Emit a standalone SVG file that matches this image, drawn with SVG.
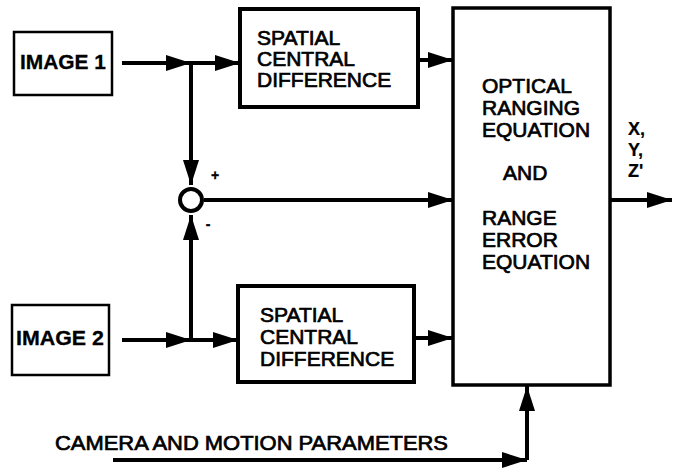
<svg xmlns="http://www.w3.org/2000/svg" width="676" height="472" viewBox="0 0 676 472">
<style>
  .box { fill: #fff; stroke: #000; }
  .lbl { font-family: "Liberation Sans", Arial, sans-serif; font-size: 21px; fill: #000; stroke: #000; stroke-width: 0.7; }
  .b { font-weight: bold; stroke-width: 0.3; }
  .xyz { font-size: 18px; font-weight: bold; stroke-width: 0.2; }
  .conn { fill: none; stroke: #000; stroke-width: 4; }
</style>
<defs>
  <marker id="ah" markerUnits="userSpaceOnUse" markerWidth="26" markerHeight="18" refX="25" refY="8" orient="auto" viewBox="0 0 26 18">
    <path d="M0,0 L25,8 L0,16 z" fill="#000"/>
  </marker>
</defs>
<rect width="676" height="472" fill="#fff"/>

<g id="image1">
  <rect class="box" x="14" y="32" width="98" height="63" stroke-width="2.5"/>
  <text class="lbl b" x="63" y="69" text-anchor="middle" textLength="86" lengthAdjust="spacingAndGlyphs">IMAGE 1</text>
</g>
<g id="image2">
  <rect class="box" x="12" y="305" width="97" height="70" stroke-width="2.5"/>
  <text class="lbl b" x="60" y="345" text-anchor="middle" textLength="88" lengthAdjust="spacingAndGlyphs">IMAGE 2</text>
</g>
<g id="scd1">
  <rect class="box" x="240" y="9" width="178" height="98" stroke-width="4"/>
  <text class="lbl" x="257" y="45">SPATIAL</text>
  <text class="lbl" x="257" y="66">CENTRAL</text>
  <text class="lbl" x="257" y="87">DIFFERENCE</text>
</g>
<g id="scd2">
  <rect class="box" x="238" y="286" width="176" height="96" stroke-width="4"/>
  <text class="lbl" x="260" y="322">SPATIAL</text>
  <text class="lbl" x="260" y="344">CENTRAL</text>
  <text class="lbl" x="260" y="366">DIFFERENCE</text>
</g>
<g id="sum">
  <circle cx="191" cy="200" r="11" fill="#fff" stroke="#000" stroke-width="4"/>
  <text class="lbl b" x="215" y="180" text-anchor="middle" style="font-size:14px">+</text>
  <text class="lbl b" x="208" y="229" text-anchor="middle" style="font-size:14px">-</text>
</g>
<g id="ranging">
  <rect class="box" x="453" y="8" width="157" height="377" stroke-width="3.5"/>
  <text class="lbl" x="482" y="93">OPTICAL</text>
  <text class="lbl" x="482" y="115">RANGING</text>
  <text class="lbl" x="482" y="137">EQUATION</text>
  <text class="lbl" x="503" y="180">AND</text>
  <text class="lbl" x="482" y="225">RANGE</text>
  <text class="lbl" x="482" y="247">ERROR</text>
  <text class="lbl" x="482" y="269">EQUATION</text>
</g>
<g id="output">
  <text class="lbl xyz" x="628" y="135">X,</text>
  <text class="lbl xyz" x="628" y="156">Y,</text>
  <text class="lbl xyz" x="628" y="177">Z'</text>
</g>
<g id="camera">
  <text class="lbl" x="55" y="450" textLength="393" lengthAdjust="spacingAndGlyphs">CAMERA AND MOTION PARAMETERS</text>
</g>

<g id="connectors">
  <path class="conn" d="M122,63 L191,63" marker-end="url(#ah)"/>
  <path class="conn" d="M191,63 L240,63" marker-end="url(#ah)"/>
  <path class="conn" d="M191,63 L191,185" marker-end="url(#ah)"/>
  <path class="conn" d="M122,340 L191,340" marker-end="url(#ah)"/>
  <path class="conn" d="M191,340 L238,340" marker-end="url(#ah)"/>
  <path class="conn" d="M191,340 L191,215" marker-end="url(#ah)"/>
  <path class="conn" d="M418,60 L453,60" marker-end="url(#ah)"/>
  <path class="conn" d="M414,338 L453,338" marker-end="url(#ah)"/>
  <path class="conn" d="M204,200 L453,200" marker-end="url(#ah)"/>
  <path class="conn" d="M610,200 L672,200" marker-end="url(#ah)"/>
  <path class="conn" d="M113,460 L527,460" marker-end="url(#ah)"/>
  <path class="conn" d="M527,460 L527,386" marker-end="url(#ah)"/>
</g>
</svg>
